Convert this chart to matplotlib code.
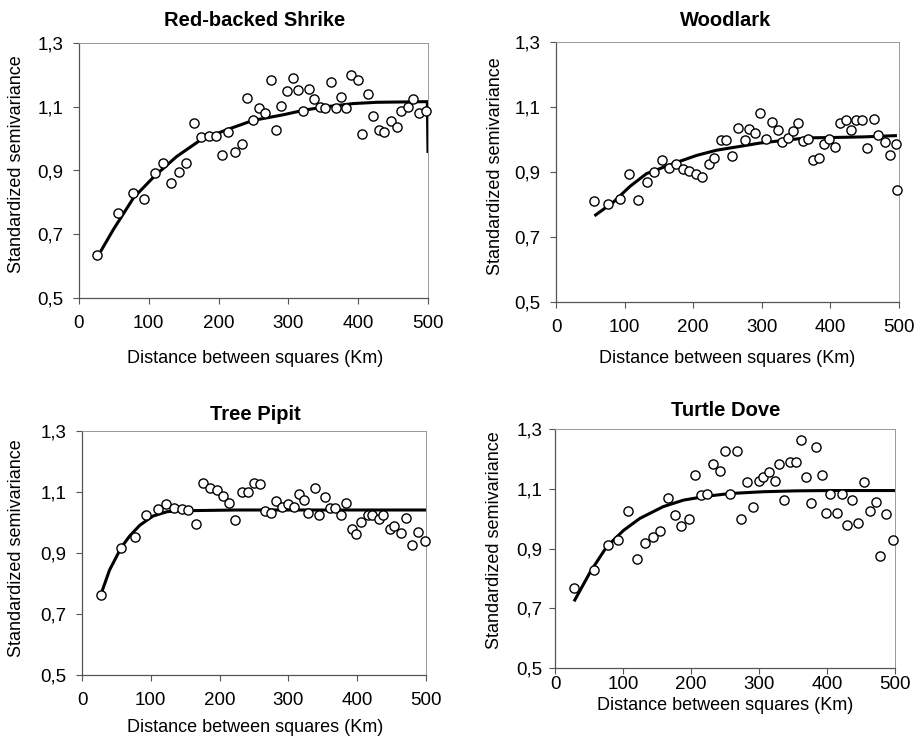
import matplotlib
matplotlib.use("Agg")
import matplotlib.pyplot as plt
from matplotlib.ticker import FuncFormatter

plt.rcParams['font.family'] = ['Liberation Sans', 'DejaVu Sans']

# ---------------- data ----------------
titles = ["Red-backed Shrike", "Woodlark", "Tree Pipit", "Turtle Dove"]
xlabel_text = "Distance between squares (Km)"
ylabel_text = "Standardized semivariance"
xticks = [0, 100, 200, 300, 400, 500]
yticks = [0.5, 0.7, 0.9, 1.1, 1.3]

shrike_x = [26, 56, 77, 93, 109, 121, 132, 143, 154, 165, 175, 186, 196, 205, 214, 223, 233,
            241, 249, 258, 266, 275, 282, 290, 298, 307, 314, 321, 329, 337, 345, 353, 361,
            368, 375, 382, 390, 399, 406, 414, 421, 430, 437, 447, 455, 462, 471, 478, 487, 497]
shrike_y = [0.634, 0.766, 0.830, 0.811, 0.891, 0.922, 0.860, 0.895, 0.922, 1.048, 1.004, 1.007,
            1.007, 0.948, 1.020, 0.958, 0.983, 1.128, 1.059, 1.096, 1.080, 1.185, 1.028, 1.103,
            1.148, 1.189, 1.154, 1.088, 1.157, 1.124, 1.099, 1.095, 1.177, 1.096, 1.132, 1.096,
            1.199, 1.185, 1.016, 1.141, 1.072, 1.028, 1.020, 1.056, 1.036, 1.088, 1.100, 1.124,
            1.080, 1.088]
shrike_fit_x = [31, 49, 78, 108, 140, 175, 212, 249, 293, 322, 350, 393, 427, 499, 500]
shrike_fit_y = [0.646, 0.714, 0.814, 0.882, 0.944, 0.997, 1.028, 1.057, 1.075, 1.089, 1.099,
                1.110, 1.114, 1.116, 0.955]

woodlark_x = [56, 76, 93, 107, 119, 132, 143, 155, 164, 175, 185, 194, 204, 213, 223, 231, 240,
              248, 257, 266, 275, 282, 290, 298, 306, 315, 323, 330, 338, 346, 353, 360, 368,
              375, 383, 390, 398, 406, 414, 423, 430, 438, 446, 454, 463, 470, 479, 487, 496, 497]
woodlark_y = [0.811, 0.803, 0.818, 0.894, 0.815, 0.868, 0.901, 0.938, 0.913, 0.926, 0.908, 0.904,
              0.893, 0.886, 0.925, 0.942, 0.997, 0.997, 0.949, 1.036, 0.997, 1.032, 1.020, 1.082,
              1.002, 1.053, 1.029, 0.993, 1.006, 1.026, 1.050, 0.996, 1.002, 0.938, 0.943, 0.987,
              1.002, 0.977, 1.050, 1.061, 1.029, 1.061, 1.061, 0.973, 1.064, 1.013, 0.993, 0.953,
              0.985, 0.846]
woodlark_fit_x = [56, 84, 108, 132, 171, 205, 234, 263, 297, 331, 365, 399, 448, 497]
woodlark_fit_y = [0.765, 0.808, 0.856, 0.895, 0.926, 0.951, 0.967, 0.977, 0.989, 0.997, 1.005,
                  1.006, 1.008, 1.012]

pipit_x = [27, 57, 77, 93, 110, 122, 133, 145, 154, 165, 176, 186, 196, 205, 214, 222, 232,
           242, 250, 259, 266, 275, 282, 291, 299, 308, 315, 322, 329, 339, 345, 353, 361,
           368, 376, 383, 392, 398, 406, 415, 422, 431, 438, 447, 454, 463, 471, 479, 489, 498]
pipit_y = [0.761, 0.918, 0.951, 1.023, 1.044, 1.060, 1.048, 1.044, 1.041, 0.995, 1.130, 1.113,
           1.106, 1.087, 1.064, 1.008, 1.100, 1.100, 1.131, 1.125, 1.038, 1.032, 1.072, 1.051,
           1.060, 1.051, 1.092, 1.075, 1.032, 1.112, 1.023, 1.084, 1.049, 1.049, 1.023, 1.064,
           0.978, 0.963, 1.003, 1.026, 1.023, 1.010, 1.026, 0.978, 0.987, 0.966, 1.015, 0.926,
           0.970, 0.939]
pipit_fit_x = [27, 40, 57, 69, 84, 103, 123, 142, 162, 225, 500]
pipit_fit_y = [0.761, 0.844, 0.918, 0.955, 0.991, 1.021, 1.035, 1.040, 1.039, 1.041, 1.041]

dove_x = [28, 57, 78, 93, 108, 121, 133, 144, 155, 166, 177, 186, 197, 206, 215, 224, 233,
          242, 250, 258, 268, 274, 283, 291, 300, 306, 314, 323, 330, 337, 345, 354, 362,
          369, 376, 384, 392, 398, 405, 415, 422, 430, 437, 446, 454, 463, 472, 478, 487, 497]
dove_y = [0.768, 0.827, 0.911, 0.927, 1.025, 0.864, 0.918, 0.937, 0.959, 1.069, 1.011, 0.975,
          0.999, 1.147, 1.078, 1.081, 1.183, 1.159, 1.227, 1.081, 1.227, 0.999, 1.122, 1.040,
          1.126, 1.141, 1.155, 1.126, 1.183, 1.064, 1.191, 1.191, 1.264, 1.141, 1.052, 1.241,
          1.147, 1.020, 1.084, 1.020, 1.084, 0.978, 1.064, 0.986, 1.122, 1.027, 1.055, 0.875,
          1.014, 0.930]
dove_fit_x = [28, 52, 76, 101, 125, 159, 189, 223, 257, 306, 355, 404, 500]
dove_fit_y = [0.723, 0.822, 0.906, 0.961, 1.001, 1.040, 1.062, 1.075, 1.084, 1.090, 1.093,
              1.094, 1.094]

# ---------------- layout ----------------
W, H = 921, 739
fig = plt.figure(figsize=(W / 100, H / 100), dpi=100)

def px_axes(l, t, r, b):
    return fig.add_axes([l / W, 1 - b / H, (r - l) / W, (b - t) / H])

panels = [
    dict(box=(79, 43, 428, 298), x=shrike_x, y=shrike_y, fx=shrike_fit_x, fy=shrike_fit_y,
         title=(255, 20), xlab=(255, 358), ylab=(17, 164), xpad=8, ypad=7),
    dict(box=(556, 42, 899, 302), x=woodlark_x, y=woodlark_y, fx=woodlark_fit_x, fy=woodlark_fit_y,
         title=(726, 20), xlab=(727, 358), ylab=(495, 166), xpad=8, ypad=7),
    dict(box=(82, 431, 426, 675), x=pipit_x, y=pipit_y, fx=pipit_fit_x, fy=pipit_fit_y,
         title=(255, 414), xlab=(255, 728), ylab=(17, 548), xpad=8, ypad=7),
    dict(box=(555, 429, 895, 668), x=dove_x, y=dove_y, fx=dove_fit_x, fy=dove_fit_y,
         title=(726, 410), xlab=(725, 705), ylab=(494, 540), xpad=2, ypad=5),
]

fmt = FuncFormatter(lambda v, p: ("%.1f" % v).replace(".", ","))

for p, title in zip(panels, titles):
    ax = px_axes(*p["box"])
    ax.plot(p["fx"], p["fy"], color="black", lw=2.2, zorder=2, solid_capstyle="butt")
    ax.plot(p["x"], p["y"], linestyle="none", marker="o", ms=6.6, mfc="white",
            mec="black", mew=1.0, zorder=3, clip_on=False)
    ax.set_xlim(0, 500)
    ax.set_ylim(0.5, 1.3)
    ax.set_xticks(xticks)
    ax.set_yticks(yticks)
    ax.yaxis.set_major_formatter(fmt)
    ax.tick_params(axis="x", direction="out", length=4, width=0.8, color="#555555",
                   labelsize=13.5, pad=p["xpad"])
    ax.tick_params(axis="y", direction="out", length=4, width=0.8, color="#555555",
                   labelsize=13.5, pad=p["ypad"])
    for side in ["left", "bottom"]:
        ax.spines[side].set_color("#555555")
        ax.spines[side].set_linewidth(0.9)
    for side in ["top", "right"]:
        ax.spines[side].set_color("#999999")
        ax.spines[side].set_linewidth(0.7)
    tx, ty = p["title"]
    fig.text(tx / W, 1 - ty / H, title, ha="center", va="center", fontsize=14.5,
             fontweight="bold")
    lx, ly = p["xlab"]
    fig.text(lx / W, 1 - ly / H, xlabel_text, ha="center", va="center", fontsize=13)
    yx, yy = p["ylab"]
    fig.text(yx / W, 1 - yy / H, ylabel_text, ha="center", va="center", fontsize=13,
             rotation=90)

fig.savefig("out.png", dpi=100, facecolor="white")
